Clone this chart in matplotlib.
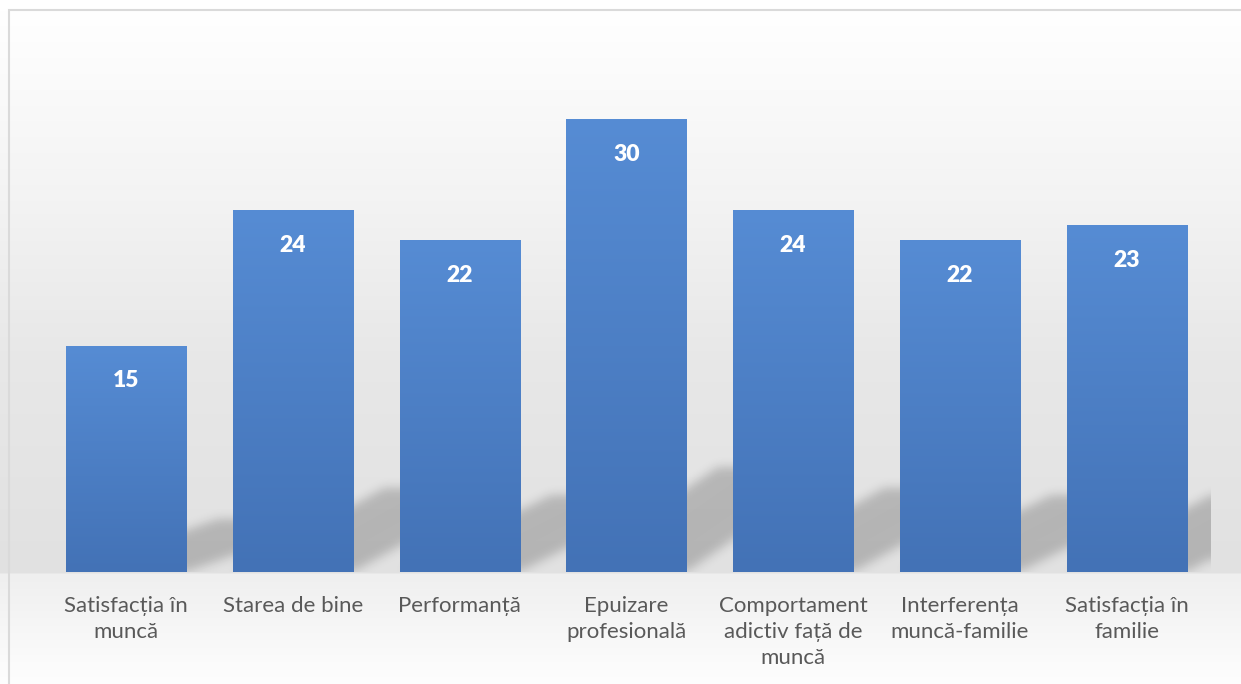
import numpy as np
import matplotlib
matplotlib.use("Agg")
import matplotlib.pyplot as plt
from matplotlib.path import Path
from matplotlib.patches import Rectangle

plt.rcParams['font.family'] = ['Lato', 'DejaVu Sans']

categories = [
    "Satisfacția în\nmuncă",
    "Starea de bine",
    "Performanță",
    "Epuizare\nprofesională",
    "Comportament\nadictiv față de\nmuncă",
    "Interferența\nmuncă-familie",
    "Satisfacția în\nfamilie",
]
values = [15, 24, 22, 30, 24, 22, 23]

W, H = 1241, 684
BAR_W = 0.72
TOP_COLOR = np.array([86, 140, 212]) / 255
BOT_COLOR = np.array([67, 114, 182]) / 255

fig = plt.figure(figsize=(W / 100, H / 100), dpi=100)

# background gradient
bg = fig.add_axes([0, 0, 1, 1])
rows = np.arange(H)
g = np.interp(rows, [0, 10, 200, 350, 572, 574, 684], [255, 255, 243, 232, 225, 239, 254]) / 255
bg.imshow(np.repeat(g[:, None], 3, axis=1)[:, None, :], extent=(0, 1, 0, 1), aspect='auto')
bg.set_xlim(0, 1)
bg.set_ylim(0, 1)
bg.axis('off')
fig.patches.append(Rectangle((9 / W, -0.02), (1250 - 9) / W, (H - 10) / H + 0.02,
                             transform=fig.transFigure, fill=False, edgecolor='#dadada', lw=1.5))

ax = fig.add_axes([42.75 / W, (H - 572) / H, (1210 - 42.75) / W, (572 - 43.5) / H])
ax.patch.set_visible(False)
x = np.arange(len(values))

# soft shadows behind bars
skew, k = 0.9, 0.23
nx, ny = 1168, 529
xs = np.linspace(-0.5, 6.5, nx)
ys = np.linspace(0, 35, ny)
XX, YY = np.meshgrid(xs, ys)
pts = np.column_stack([XX.ravel(), YY.ravel()])
mask = np.zeros(nx * ny)
for xi, v in zip(x, values):
    x0, x1 = xi - BAR_W / 2, xi + BAR_W / 2
    poly = Path([(x0, 0), (x1, 0), (x1 + skew, v * k), (x0 + skew, v * k), (x0, 0)])
    mask = np.maximum(mask, poly.contains_points(pts))
mask = mask.reshape(ny, nx)
sig = 5
t = np.arange(-3 * sig, 3 * sig + 1)
kern = np.exp(-t ** 2 / (2 * sig ** 2))
kern /= kern.sum()
pad = len(t) // 2
m = np.pad(mask, pad, mode='edge')
m = np.apply_along_axis(lambda r: np.convolve(r, kern, mode='valid'), 1, m)
m = np.apply_along_axis(lambda c: np.convolve(c, kern, mode='valid'), 0, m)
shadow = np.zeros((ny, nx, 4))
shadow[..., 3] = m * 0.2
ax.imshow(shadow, extent=(-0.5, 6.5, 0, 35), origin='lower', aspect='auto', zorder=1)

bars = ax.bar(x, values, width=BAR_W, color='none', edgecolor='none', zorder=3)
grad = np.linspace(0, 1, 256)[:, None]
grad_img = (BOT_COLOR[None, :] * (1 - grad) + TOP_COLOR[None, :] * grad)[:, None, :]
for b, xi, v in zip(bars, x, values):
    im = ax.imshow(grad_img, extent=(xi - BAR_W / 2, xi + BAR_W / 2, 0, v),
                   origin='lower', aspect='auto', zorder=3)
    im.set_clip_path(b)
    ax.annotate(str(v), (xi, v), xytext=(0, -25.5), textcoords='offset points',
                ha='center', va='center', color='white', fontsize=16.5, fontweight='heavy', zorder=5)

ax.set_xlim(-0.5, 6.5)
ax.set_ylim(0, 35)
ax.set_xticks(x)
ax.set_xticklabels(categories, fontsize=16, color='#595959', linespacing=1.4)
ax.tick_params(axis='x', length=0, pad=17)
ax.set_yticks([])
for s in ax.spines.values():
    s.set_visible(False)

fig.savefig('out.png', dpi=100)
